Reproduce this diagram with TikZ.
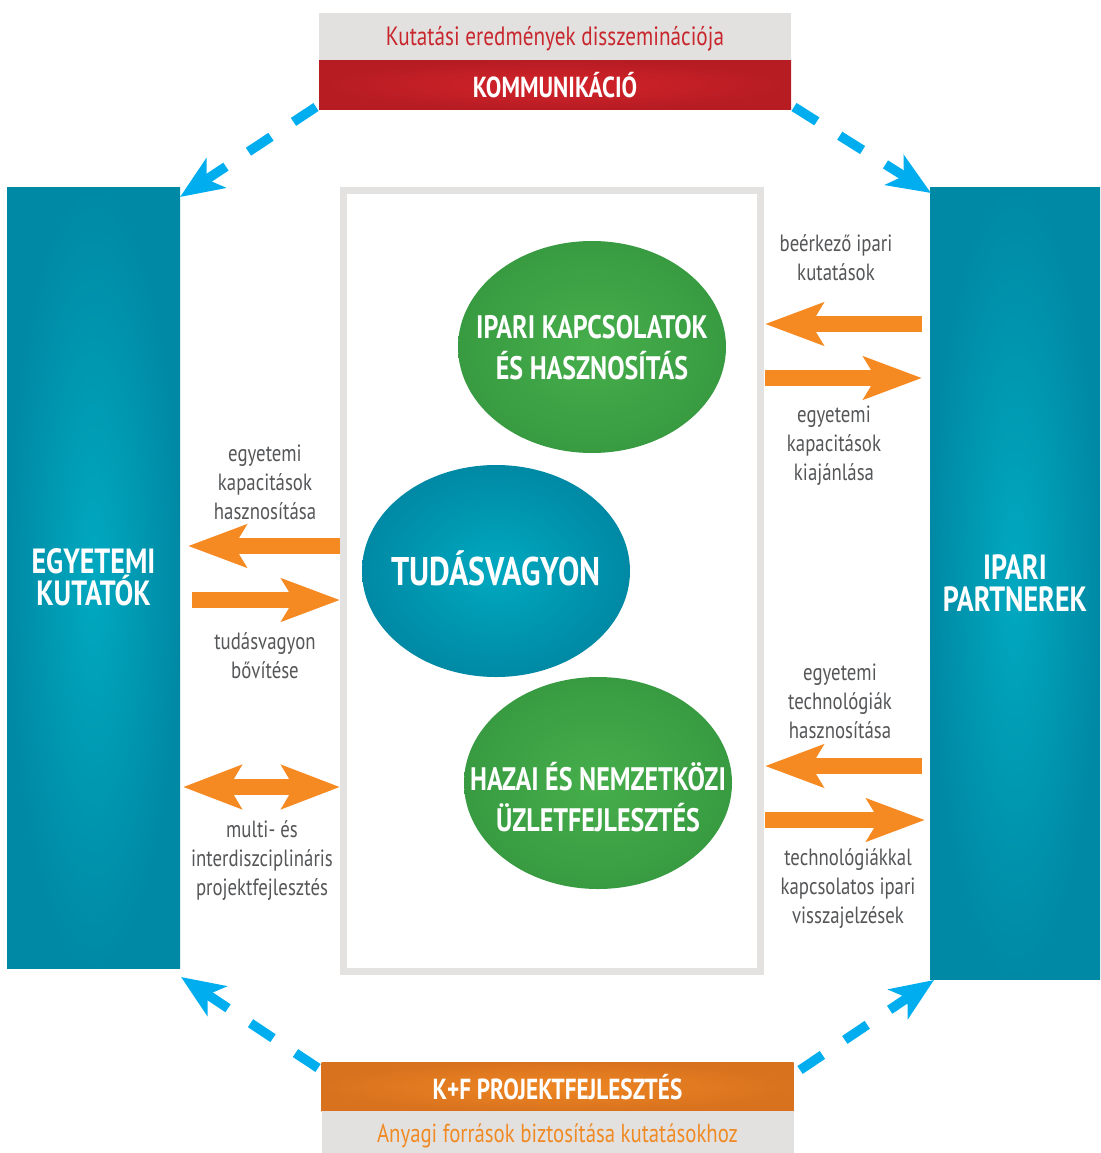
\documentclass[tikz,border=0pt]{standalone}
\usepackage{fontspec}
\setmainfont{PT Sans}[FakeStretch=0.8]
\usetikzlibrary{arrows.meta,shapes.geometric}
\definecolor{tealout}{HTML}{0089A4}
\definecolor{tealin}{HTML}{00A9C0}
\definecolor{greenout}{HTML}{389B41}
\definecolor{greenin}{HTML}{46AE4B}
\definecolor{redout}{HTML}{B71C23}
\definecolor{redin}{HTML}{D3232A}
\definecolor{orout}{HTML}{D8721E}
\definecolor{orin}{HTML}{EE8623}
\definecolor{boxgray}{HTML}{E2E1DF}
\definecolor{framegray}{HTML}{E3E2E0}
\definecolor{labelgray}{HTML}{555658}
\definecolor{arrorange}{HTML}{F58A22}
\definecolor{arrblue}{HTML}{00AEEF}
\definecolor{redtext}{HTML}{C8272E}
\definecolor{ortext}{HTML}{F08A24}
\begin{document}
\begin{tikzpicture}[x=1pt,y=-1pt,
  graybox/.style={rectangle, fill=boxgray, minimum width=472pt, minimum height=48pt, inner sep=0pt},
  colbox/.style={rectangle, inner sep=0pt, minimum width=472pt, minimum height=49pt, text=white,
     font=\fontsize{29}{32}\selectfont\bfseries},
  sidebar/.style={rectangle, inner sep=0pt, inner color=tealin, outer color=tealout, text=white,
     align=center, font=\fontsize{35}{32}\selectfont\bfseries},
  greenell/.style={ellipse, inner sep=0pt, inner color=greenin, outer color=greenout,
     minimum width=268pt, minimum height=212pt},
  tealell/.style={ellipse, inner sep=0pt, inner color=tealin, outer color=tealout,
     minimum width=268pt, minimum height=212pt},
  elltext/.style={text=white, align=center, inner sep=0pt, font=\fontsize{32.5}{41}\selectfont\bfseries},
  lbl/.style={text=labelgray, align=center, inner sep=0pt, font=\fontsize{23.5}{29}\selectfont},
  oarr/.style={draw=arrorange, line width=16pt, -{Stealth[length=58pt,width=42pt,inset=12pt]}},
  odarr/.style={draw=arrorange, line width=16pt, {Stealth[length=58pt,width=43pt,inset=12pt]}-{Stealth[length=58pt,width=43pt,inset=12pt]}},
  barr/.style={draw=arrblue, line width=9.5pt, dash pattern=on 27pt off 27pt, -{Stealth[length=43pt,width=35pt,inset=11pt]}}
]
\useasboundingbox (0,0) rectangle (1100,1153);
% top boxes
\node[graybox] (dissem) at (555,37) {};
\node[text=redtext, font=\fontsize{26.5}{30}\selectfont, inner sep=0pt] (dissemtxt) at (555,39) {Kutatási eredmények disszeminációja};
\node[colbox, inner color=redin, outer color=redout] (komm) at (555,85) {KOMMUNIKÁCIÓ};
% bottom boxes
\node[colbox, inner color=orin, outer color=orout] (kf) at (557.5,1087) {K+F PROJEKTFEJLESZTÉS};
\node[graybox, minimum height=42pt] (anyagi) at (557.5,1132) {};
\node[text=ortext, font=\fontsize{26}{30}\selectfont, inner sep=0pt] (anyagitxt) at (557.5,1136) {Anyagi források biztosítása kutatásokhoz};
% side bars
\node[sidebar, minimum width=173pt, minimum height=781pt] (left) at (93.5,577.5) {EGYETEMI\\KUTATÓK};
\node[sidebar, minimum width=170pt, minimum height=792pt] (right) at (1015,583) {IPARI\\PARTNEREK};
% frame
\node[draw=framegray, line width=7pt, rectangle, minimum width=417pt, minimum height=781pt, inner sep=0pt] (frame) at (552,581) {};
% ellipses
\node[greenell] (ipari) at (592,347) {};
\node[elltext] at (592,348) {IPARI KAPCSOLATOK\\ÉS HASZNOSÍTÁS};
\node[tealell] (tudas) at (496,571) {};
\node[elltext, font=\fontsize{40}{41}\selectfont\bfseries] at (496,568) {TUDÁSVAGYON};
\node[greenell] (hazai) at (598,783) {};
\node[elltext] at (598,797) {HAZAI ÉS NEMZETKÖZI\\ÜZLETFEJLESZTÉS};
% coordinates for arrows
\coordinate (ra1) at (922,324); \coordinate (rb1) at (765,324);
\coordinate (ra2) at (765,378); \coordinate (rb2) at (922,378);
\coordinate (ra3) at (922,766); \coordinate (rb3) at (765,766);
\coordinate (ra4) at (765,820); \coordinate (rb4) at (925,820);
\coordinate (la1) at (340,546); \coordinate (lb1) at (188,546);
\coordinate (la2) at (192,600); \coordinate (lb2) at (340,600);
\coordinate (la3) at (183,787); \coordinate (lb3) at (340,787);
% orange arrows
\draw[oarr] (ra1) -- (rb1);
\draw[oarr] (ra2) -- (rb2);
\draw[oarr] (ra3) -- (rb3);
\draw[oarr] (ra4) -- (rb4);
\draw[oarr] (la1) -- (lb1);
\draw[oarr] (la2) -- (lb2);
\draw[odarr] (la3) -- (lb3);
% blue dashed arrows
\coordinate (b1s) at (316,107); \coordinate (b1e) at (180,197);
\coordinate (b2s) at (794,107); \coordinate (b2e) at (931,193);
\coordinate (b3s) at (318,1068); \coordinate (b3e) at (181,977);
\coordinate (b4s) at (800,1070); \coordinate (b4e) at (934,980);
\draw[barr] (b1s) -- (b1e);
\draw[barr] (b2s) -- (b2e);
\draw[barr] (b3s) -- (b3e);
\draw[barr] (b4s) -- (b4e);
% labels
\node[lbl] at (836,258) {beérkező ipari\\kutatások};
\node[lbl] at (834,446) {egyetemi\\kapacitások\\kiajánlása};
\node[lbl] at (265,482) {egyetemi\\kapacitások\\hasznosítása};
\node[lbl] at (265,656) {tudásvagyon\\bővítése};
\node[lbl] at (262,861) {multi- és\\interdiszciplináris\\projektfejlesztés};
\node[lbl] at (840,701) {egyetemi\\technológiák\\hasznosítása};
\node[lbl] at (848,889) {technológiákkal\\kapcsolatos ipari\\visszajelzések};
\end{tikzpicture}
\end{document}
